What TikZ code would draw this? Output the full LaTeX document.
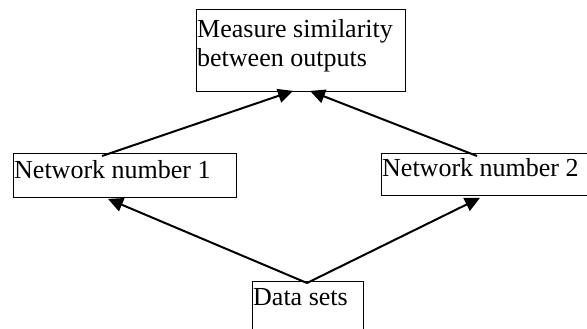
\documentclass[tikz,border=0pt]{standalone}
\usepackage{fontspec}
\setmainfont{Liberation Serif}
\usetikzlibrary{arrows.meta,calc}
\begin{document}
\begin{tikzpicture}[x=1pt,y=-1pt,
  box/.style={draw=black,line width=0.9pt,inner sep=0pt,anchor=north west},
  lbl/.style={font=\fontsize{26}{30}\selectfont,inner sep=0pt,anchor=base west,align=left},
  link/.style={line width=2pt,-{Triangle[length=15pt,width=14pt]}}]
\useasboundingbox (0,0) rectangle (587,329);
\fill[white] (0,0) rectangle (587,329);
\clip (0,0) rectangle (587,329);
% boxes
\node[box,minimum width=209.5pt,minimum height=82pt] (measure) at (195.5,9) {};
\node[box,minimum width=223pt,minimum height=44pt] (net1) at (13,153) {};
\node[box,minimum width=220pt,minimum height=42pt] (net2) at (381,153) {};
\node[box,minimum width=111pt,minimum height=60pt] (data) at (252,281) {};
% labels
\node[lbl] (measure-text) at (197,67) {Measure similarity\\between outputs};
\node[lbl] (net1-text) at (14,178) {Network number 1};
\node[lbl] (net2-text) at (382,176) {Network number 2};
\node[lbl] (data-text) at (253,305) {Data sets};
% connectors
\draw[link] ($(net1.north west)+(89,3)$) -- ($(measure.south west)+(97.5,-1)$);
\draw[link] ($(net2.north west)+(96,3)$) -- ($(measure.south west)+(114.5,-1)$);
\draw[link] ($(data.north west)+(55,2)$) -- ($(net1.south west)+(95,1)$);
\draw[link] ($(data.north west)+(55,2)$) -- ($(net2.south west)+(99,2)$);
\end{tikzpicture}
\end{document}
